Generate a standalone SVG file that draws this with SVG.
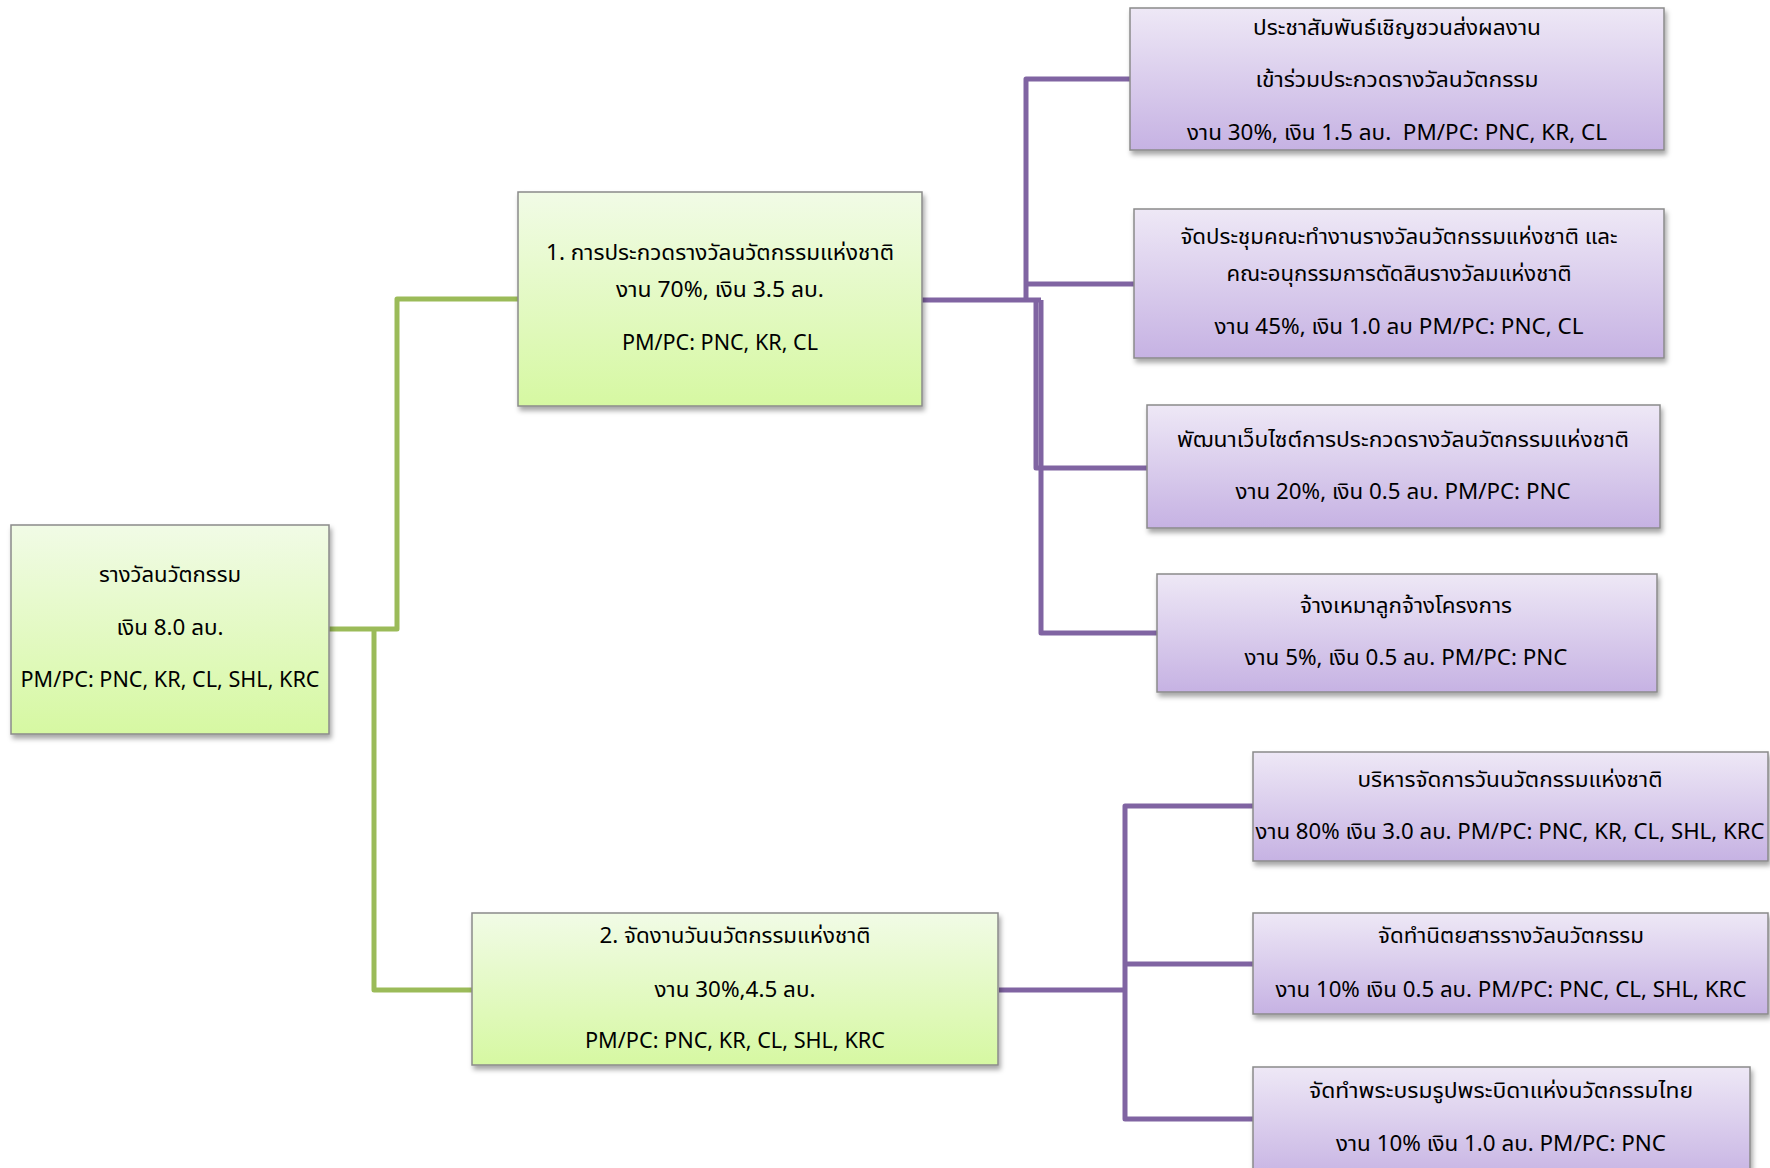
<svg xmlns="http://www.w3.org/2000/svg" width="1770" height="1168" viewBox="0 0 1770 1168">
<defs>
<linearGradient id="gg" x1="0" y1="0" x2="0" y2="1">
<stop offset="0" stop-color="#f1fbe6"/>
<stop offset="1" stop-color="#d6f8a2"/>
</linearGradient>
<linearGradient id="pg" x1="0" y1="0" x2="0" y2="1">
<stop offset="0" stop-color="#eee8f6"/>
<stop offset="1" stop-color="#c6b2e3"/>
</linearGradient>
<filter id="sh" x="-5%" y="-5%" width="115%" height="125%">
<feDropShadow dx="2" dy="4" stdDeviation="2.5" flood-color="#000" flood-opacity="0.35"/>
</filter>
</defs>
<style>
.g{fill:url(#gg);stroke:#8a8a8a;stroke-width:1.5;filter:url(#sh)}
.p{fill:url(#pg);stroke:#8a8a8a;stroke-width:1.5;filter:url(#sh)}
.t{font-family:"Noto Sans Thai","Tahoma","Noto Sans","DejaVu Sans",sans-serif;font-size:22px;fill:#000;text-anchor:middle}
.cg{stroke:#9bbb59;stroke-width:5;fill:none;stroke-linejoin:round}
.cp{stroke:#8064a2;stroke-width:5;fill:none;stroke-linejoin:round}
</style>
<rect width="1770" height="1168" fill="#fff"/>
<g id="connectors">
<path class="cg" d="M329 629 H397 V299 H518"/>
<path class="cg" d="M374 629 V990 H472"/>
<path class="cp" d="M922 300 H1041"/>
<path class="cp" d="M1026 300 V79 H1130"/>
<path class="cp" d="M1026 284 H1134"/>
<path class="cp" d="M1036 300 V468 H1147"/>
<path class="cp" d="M1041 300 V633 H1157"/>
<path class="cp" d="M999 990 H1125"/>
<path class="cp" d="M1253 806 H1125 V1119 H1253"/>
<path class="cp" d="M1125 964 H1253"/>
</g>
<g id="root">
<rect class="g" x="11" y="525" width="318" height="209"/>
<text class="t" x="170" y="582" textLength="142" lengthAdjust="spacingAndGlyphs">รางวัลนวัตกรรม</text>
<text class="t" x="170" y="635" textLength="107" lengthAdjust="spacingAndGlyphs">เงิน 8.0 ลบ.</text>
<text class="t" x="170" y="687" textLength="299" lengthAdjust="spacingAndGlyphs">PM/PC: PNC, KR, CL, SHL, KRC</text>
</g>
<g id="n1">
<rect class="g" x="518" y="192" width="404" height="214"/>
<text class="t" x="720" y="260" textLength="348" lengthAdjust="spacingAndGlyphs">1. การประกวดรางวัลนวัตกรรมแห่งชาติ</text>
<text class="t" x="720" y="297" textLength="208" lengthAdjust="spacingAndGlyphs">งาน 70%, เงิน 3.5 ลบ.</text>
<text class="t" x="720" y="350" textLength="196" lengthAdjust="spacingAndGlyphs">PM/PC: PNC, KR, CL</text>
</g>
<g id="n2">
<rect class="g" x="472" y="913" width="526" height="152"/>
<text class="t" x="735" y="943" textLength="271" lengthAdjust="spacingAndGlyphs">2. จัดงานวันนวัตกรรมแห่งชาติ</text>
<text class="t" x="735" y="997" textLength="161" lengthAdjust="spacingAndGlyphs">งาน 30%,4.5 ลบ.</text>
<text class="t" x="735" y="1048" textLength="300" lengthAdjust="spacingAndGlyphs">PM/PC: PNC, KR, CL, SHL, KRC</text>
</g>
<g id="p1">
<rect class="p" x="1130" y="8" width="534" height="142"/>
<text class="t" x="1397" y="35" textLength="288" lengthAdjust="spacingAndGlyphs">ประชาสัมพันธ์เชิญชวนส่งผลงาน</text>
<text class="t" x="1397" y="87" textLength="283" lengthAdjust="spacingAndGlyphs">เข้าร่วมประกวดรางวัลนวัตกรรม</text>
<text class="t" x="1397" y="140" textLength="420" lengthAdjust="spacingAndGlyphs" xml:space="preserve">งาน 30%, เงิน 1.5 ลบ.  PM/PC: PNC, KR, CL</text>
</g>
<g id="p2">
<rect class="p" x="1134" y="209" width="530" height="149"/>
<text class="t" x="1399" y="244" textLength="437" lengthAdjust="spacingAndGlyphs">จัดประชุมคณะทำงานรางวัลนวัตกรรมแห่งชาติ และ</text>
<text class="t" x="1399" y="281" textLength="345" lengthAdjust="spacingAndGlyphs">คณะอนุกรรมการตัดสินรางวัลมแห่งชาติ</text>
<text class="t" x="1399" y="334" textLength="369" lengthAdjust="spacingAndGlyphs">งาน 45%, เงิน 1.0 ลบ PM/PC: PNC, CL</text>
</g>
<g id="p3">
<rect class="p" x="1147" y="405" width="513" height="123"/>
<text class="t" x="1403" y="447" textLength="452" lengthAdjust="spacingAndGlyphs">พัฒนาเว็บไซต์การประกวดรางวัลนวัตกรรมแห่งชาติ</text>
<text class="t" x="1403" y="499" textLength="335" lengthAdjust="spacingAndGlyphs">งาน 20%, เงิน 0.5 ลบ. PM/PC: PNC</text>
</g>
<g id="p4">
<rect class="p" x="1157" y="574" width="500" height="118"/>
<text class="t" x="1406" y="613" textLength="212" lengthAdjust="spacingAndGlyphs">จ้างเหมาลูกจ้างโครงการ</text>
<text class="t" x="1406" y="665" textLength="323" lengthAdjust="spacingAndGlyphs">งาน 5%, เงิน 0.5 ลบ. PM/PC: PNC</text>
</g>
<g id="p5">
<rect class="p" x="1253" y="752" width="515" height="109"/>
<text class="t" x="1510" y="787" textLength="305" lengthAdjust="spacingAndGlyphs">บริหารจัดการวันนวัตกรรมแห่งชาติ</text>
<text class="t" x="1510" y="839" textLength="509" lengthAdjust="spacingAndGlyphs">งาน 80% เงิน 3.0 ลบ. PM/PC: PNC, KR, CL, SHL, KRC</text>
</g>
<g id="p6">
<rect class="p" x="1253" y="913" width="515" height="101"/>
<text class="t" x="1511" y="943" textLength="266" lengthAdjust="spacingAndGlyphs">จัดทำนิตยสารรางวัลนวัตกรรม</text>
<text class="t" x="1511" y="997" textLength="471" lengthAdjust="spacingAndGlyphs">งาน 10% เงิน 0.5 ลบ. PM/PC: PNC, CL, SHL, KRC</text>
</g>
<g id="p7">
<rect class="p" x="1253" y="1067" width="497" height="115"/>
<text class="t" x="1501" y="1098" textLength="384" lengthAdjust="spacingAndGlyphs">จัดทำพระบรมรูปพระบิดาแห่งนวัตกรรมไทย</text>
<text class="t" x="1501" y="1151" textLength="330" lengthAdjust="spacingAndGlyphs">งาน 10% เงิน 1.0 ลบ. PM/PC: PNC</text>
</g>
</svg>
